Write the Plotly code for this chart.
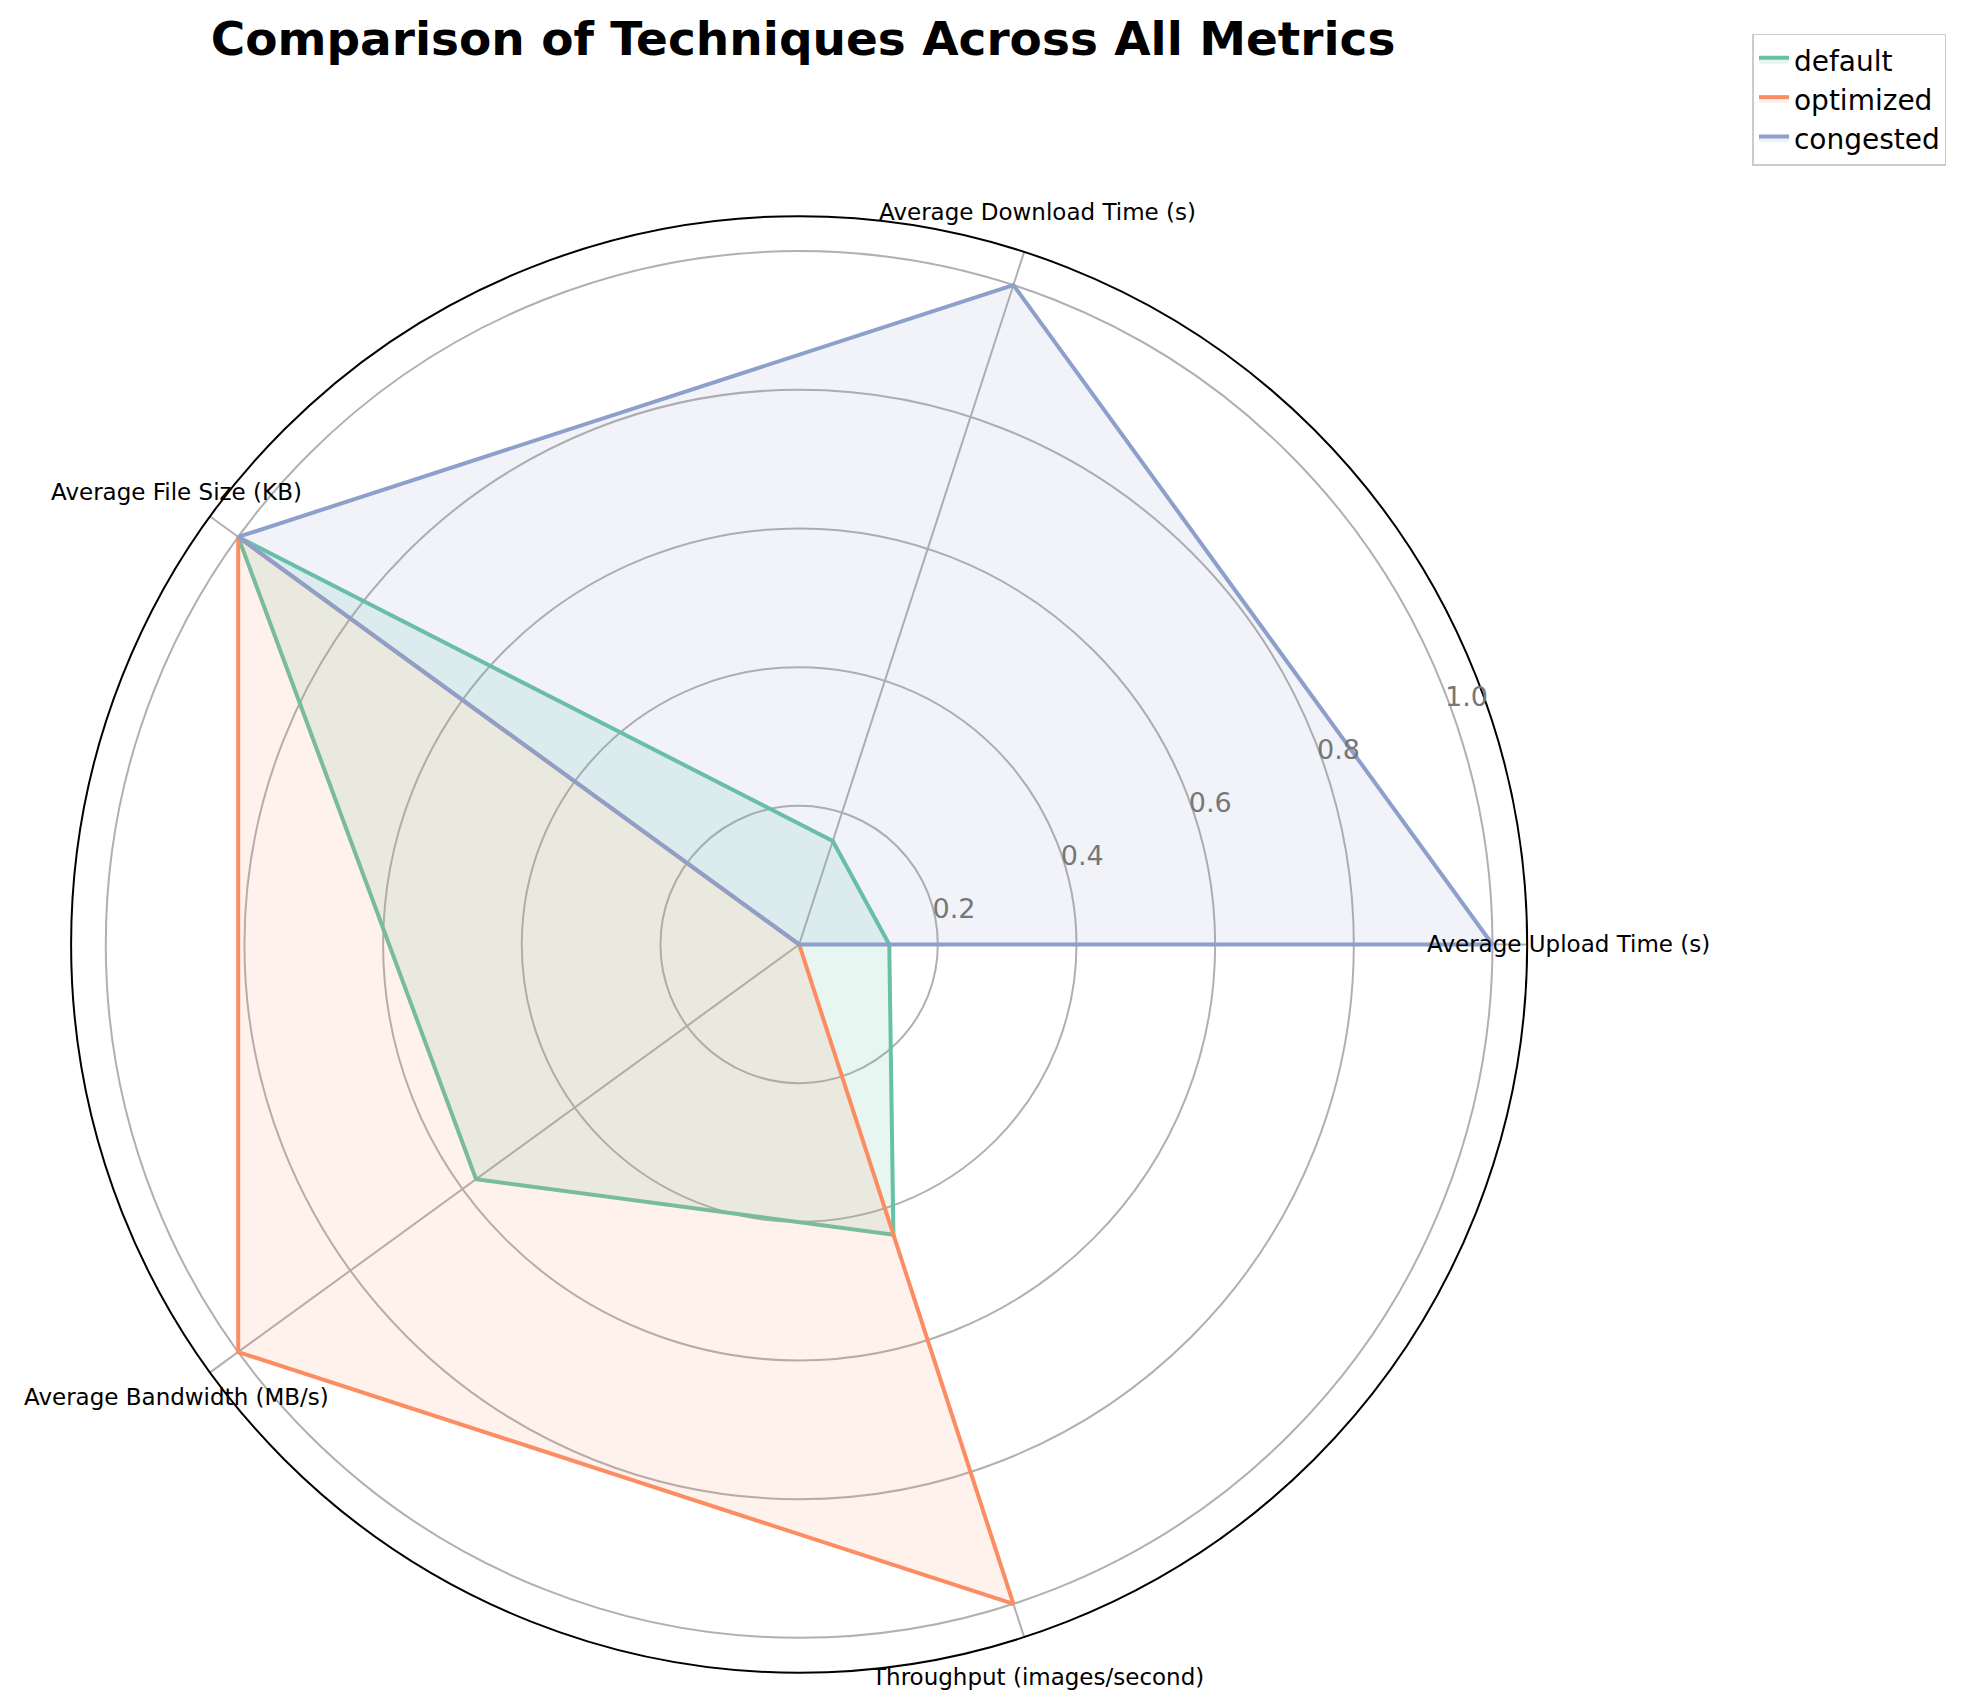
import math
import plotly.graph_objects as go

metrics = ["Average Upload Time (s)", "Average Download Time (s)", "Average File Size (KB)",
           "Average Bandwidth (MB/s)", "Throughput (images/second)"]
techniques = ["default", "optimized", "congested"]
default_vals = [0.13, 0.157, 1.0, 0.576, 0.44]
optimized_vals = [0.0, 0.0, 1.0, 1.0, 1.0]
congested_vals = [1.0, 1.0, 1.0, 0.0, 0.0]
colors = ["#66c2a5", "#fc8d62", "#8da0cb"]
fills = ["rgba(102,194,165,0.15)", "rgba(252,141,98,0.12)", "rgba(141,160,203,0.12)"]

angles = [0, 72, 144, 216, 288]
W, H = 1968, 1703
dom_x = [0.032, 0.772]
dom_y = [0.0226, 0.8776]
cx = sum(dom_x) / 2
cy = sum(dom_y) / 2
rmax = 1.05
half_px = (dom_x[1] - dom_x[0]) * W / 2

fig = go.Figure()
for name, vals, c, f in zip(techniques, [default_vals, optimized_vals, congested_vals], colors, fills):
    fig.add_trace(go.Scatterpolar(r=vals + [vals[0]], theta=angles + [angles[0]], mode="lines",
                                  fill="toself", fillcolor=f, line=dict(color=c, width=4), name=name))

annotations = []
for m, a in zip(metrics, angles):
    rp = 1.11 / rmax * half_px
    annotations.append(dict(text=m, xref="paper", yref="paper", showarrow=False,
                            x=cx + rp * math.cos(math.radians(a)) / W,
                            y=cy + rp * math.sin(math.radians(a)) / H,
                            xanchor="center", yanchor="middle", font=dict(size=23, color="black")))

fig.update_layout(
    width=W, height=H, paper_bgcolor="white", margin=dict(l=0, r=0, t=0, b=0),
    title=dict(text="<b>Comparison of Techniques Across All Metrics</b>", x=0.404, xanchor="center",
               y=0.982, yanchor="middle", font=dict(size=47, family="DejaVu Sans", color="black")),
    font=dict(family="DejaVu Sans"),
    annotations=annotations,
    legend=dict(x=0.985, y=0.985, xanchor="right", yanchor="top", bordercolor="#cccccc", borderwidth=1.5,
                font=dict(size=28, color="black")),
    polar=dict(
        domain=dict(x=dom_x, y=dom_y),
        bgcolor="white",
        angularaxis=dict(tickmode="array", tickvals=angles, ticktext=[""] * 5, direction="counterclockwise",
                         rotation=0, showline=True, linecolor="black", linewidth=2,
                         gridcolor="#b0b0b0", gridwidth=1.5, ticks=""),
        radialaxis=dict(range=[0, rmax], tickvals=[0.2, 0.4, 0.6, 0.8, 1.0],
                        ticktext=["0.2", "0.4", "0.6", "0.8", "1.0"], angle=22.5, tickangle=22.5,
                        showline=False, gridcolor="#b0b0b0", gridwidth=1.5, ticks="",
                        tickfont=dict(size=27, color="#777777")),
    ),
)
fig.write_html("out.html")
